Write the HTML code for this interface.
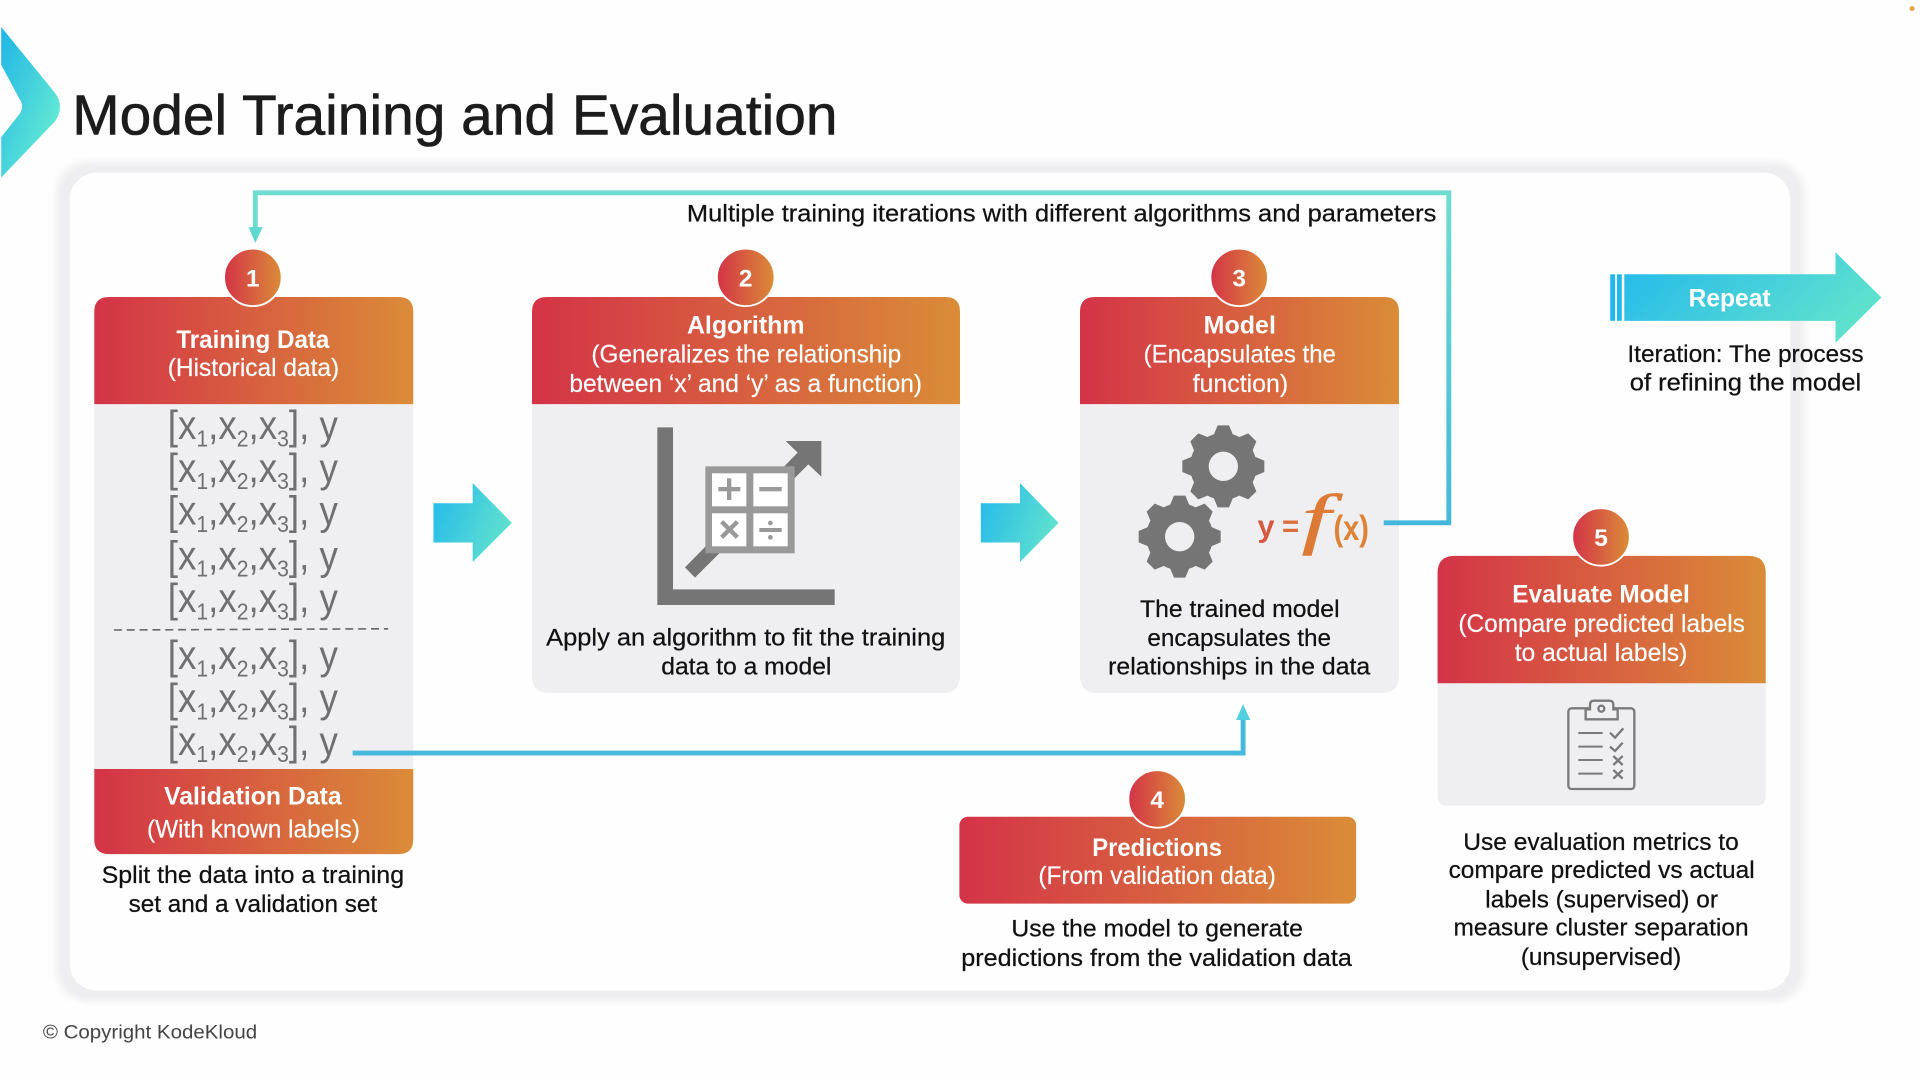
<!DOCTYPE html>
<html><head><meta charset="utf-8"><title>Model Training and Evaluation</title>
<style>
html,body{margin:0;padding:0;background:#fefefe;width:1920px;height:1080px;overflow:hidden}
svg{display:block}
text{font-family:"Liberation Sans",sans-serif}
.d{font-size:20px;fill:#111;stroke:#111;stroke-width:.2px}
.h{font-size:20.5px;fill:#fff;font-weight:bold}
.s{font-size:20.5px;fill:#fff;stroke:#fff;stroke-width:.15px}
.n{font-size:20px;fill:#fff;font-weight:bold;text-anchor:middle}
.r{font-size:33px;fill:#707073}
.r tspan.b{font-size:19px}
</style></head><body>
<svg width="1920" height="1080" viewBox="0 0 1568 882" xmlns="http://www.w3.org/2000/svg">
<defs>
<linearGradient id="hg" x1="0" y1="0" x2="1" y2="0"><stop offset="0" stop-color="#d43347"/><stop offset="1" stop-color="#da8c38"/></linearGradient>
<linearGradient id="ag" x1="0" y1="0" x2="1" y2="0.4"><stop offset="0" stop-color="#22b8ec"/><stop offset="1" stop-color="#5ee0cf"/></linearGradient>
<linearGradient id="cg" x1="0" y1="0" x2="1" y2="1"><stop offset="0" stop-color="#1fb5e6"/><stop offset="0.8" stop-color="#62e8d4"/></linearGradient>
<linearGradient id="rl" x1="0" y1="0" x2="0" y2="1"><stop offset="0" stop-color="#6fdcd0"/><stop offset="1" stop-color="#44b8dc"/></linearGradient>
<filter id="bl" x="-5%" y="-5%" width="110%" height="110%"><feGaussianBlur stdDeviation="3"/></filter>
<g id="tooth"><polygon points="-17,-123 17,-123 30,-92 -30,-92" fill="#757575"/></g>
<g id="gear"><circle r="100" fill="#757575"/>
<use href="#tooth"/><use href="#tooth" transform="rotate(45)"/><use href="#tooth" transform="rotate(90)"/><use href="#tooth" transform="rotate(135)"/><use href="#tooth" transform="rotate(180)"/><use href="#tooth" transform="rotate(225)"/><use href="#tooth" transform="rotate(270)"/><use href="#tooth" transform="rotate(315)"/>
<circle r="44" fill="#efeff1"/></g>
</defs>

<rect width="1568" height="882" fill="#fefefe"/>
<circle cx="1561.5" cy="7" r="2" fill="#e8a23c"/>

<!-- chevron -->
<path d="M1,22 L45,76 Q53,87 45,99 L1,145 L1,112 L16,93 Q20,87 16,81 L1,53 Z" fill="url(#cg)"/>
<text x="59" y="110" font-size="46" fill="#1c1c1c" stroke="#1c1c1c" stroke-width=".5" textLength="625" lengthAdjust="spacingAndGlyphs">Model Training and Evaluation</text>

<!-- panel -->
<rect x="46" y="132" width="1428" height="686" rx="26" fill="#eeeef0" filter="url(#bl)"/>
<rect x="57" y="141" width="1405" height="668" rx="22" fill="#fefefe"/>

<!-- box 1 -->
<rect x="77" y="330" width="260.5" height="298" fill="#efeff1"/>
<path d="M77,330 V254.500 Q77,242.500 89,242.500 H325.500 Q337.500,242.500 337.500,254.500 V330 Z" fill="url(#hg)"/>
<path d="M77,628 H337.500 V685.500 Q337.500,697.500 325.500,697.500 H89 Q77,697.500 77,685.500 Z" fill="url(#hg)"/>
<!-- box 2 -->
<path d="M434.500,330 H784 V552 Q784,566 770,566 H448.500 Q434.500,566 434.500,552 Z" fill="#efeff1"/>
<path d="M434.500,330 V254.500 Q434.500,242.500 446.500,242.500 H772 Q784,242.500 784,254.500 V330 Z" fill="url(#hg)"/>
<!-- box 3 -->
<path d="M882,330 H1142.500 V552 Q1142.500,566 1128.500,566 H896 Q882,566 882,552 Z" fill="#efeff1"/>
<path d="M882,330 V254.500 Q882,242.500 894,242.500 H1130.500 Q1142.500,242.500 1142.500,254.500 V330 Z" fill="url(#hg)"/>
<!-- box 4 -->
<rect x="783.500" y="667" width="324" height="71" rx="7" fill="url(#hg)"/>
<!-- box 5 -->
<path d="M1174,558 H1442 V650 Q1442,658 1434,658 H1182 Q1174,658 1174,650 Z" fill="#efeff1"/>
<path d="M1174,558 V468 Q1174,454 1188,454 H1428 Q1442,454 1442,468 V558 Z" fill="url(#hg)"/>

<!-- connectors -->
<path d="M1130,427 H1183.200 V157.500 H208.500" fill="none" stroke="url(#rl)" stroke-width="4"/>
<path d="M206.500,155.500 H210.500 V187 H206.500 Z" fill="#6fdcd0"/>
<polygon points="203,185.500 214.500,185.500 208.500,198.500" fill="#5fd8d0"/>
<path d="M288,615 H1015.200 V586" fill="none" stroke="#46b9dc" stroke-width="4"/>
<polygon points="1015.200,575 1021,588 1009.500,588" fill="#52d0e0"/>

<!-- block arrows -->
<polygon points="354,411 386,411 386,394.500 418,427 386,459 386,443 354,443" fill="url(#ag)"/>
<polygon points="801,411 833,411 833,394.500 864.500,427 833,459 833,443 801,443" fill="url(#ag)"/>
<rect x="1315" y="224" width="4" height="38" fill="#22b8ec"/>
<rect x="1320.500" y="224" width="4" height="38" fill="#22b8ec"/>
<polygon points="1326.500,224 1499,224 1499,206 1536.500,243 1499,280 1499,262 1326.500,262" fill="url(#ag)"/>

<!-- circles -->
<g stroke="#fff" stroke-width="1.500" fill="url(#hg)">
<circle cx="206.500" cy="226.500" r="23.500"/><circle cx="609" cy="226.500" r="23.500"/><circle cx="1012" cy="226.500" r="23.500"/><circle cx="945" cy="652.500" r="23.500"/><circle cx="1307.500" cy="438.500" r="23.500"/>
</g>
<text class="n" x="206.500" y="234">1</text><text class="n" x="609" y="234">2</text><text class="n" x="1012" y="234">3</text><text class="n" x="945" y="660">4</text><text class="n" x="1307.500" y="446">5</text>

<text class="d" x="561" y="181" textLength="612" lengthAdjust="spacingAndGlyphs">Multiple training iterations with different algorithms and parameters</text>

<!-- box 1 text -->
<text class="h" x="144" y="284" textLength="125" lengthAdjust="spacingAndGlyphs">Training Data</text>
<text class="s" x="137" y="307" textLength="140" lengthAdjust="spacingAndGlyphs">(Historical data)</text>
<g class="r">
<text class="r" x="137" y="358.500" textLength="139" lengthAdjust="spacingAndGlyphs">[x<tspan class="b" dy="6">1</tspan><tspan dy="-6">,x</tspan><tspan class="b" dy="6">2</tspan><tspan dy="-6">,x</tspan><tspan class="b" dy="6">3</tspan><tspan dy="-6">], y</tspan></text>
<text class="r" x="137" y="393.500" textLength="139" lengthAdjust="spacingAndGlyphs">[x<tspan class="b" dy="6">1</tspan><tspan dy="-6">,x</tspan><tspan class="b" dy="6">2</tspan><tspan dy="-6">,x</tspan><tspan class="b" dy="6">3</tspan><tspan dy="-6">], y</tspan></text>
<text class="r" x="137" y="428.500" textLength="139" lengthAdjust="spacingAndGlyphs">[x<tspan class="b" dy="6">1</tspan><tspan dy="-6">,x</tspan><tspan class="b" dy="6">2</tspan><tspan dy="-6">,x</tspan><tspan class="b" dy="6">3</tspan><tspan dy="-6">], y</tspan></text>
<text class="r" x="137" y="465" textLength="139" lengthAdjust="spacingAndGlyphs">[x<tspan class="b" dy="6">1</tspan><tspan dy="-6">,x</tspan><tspan class="b" dy="6">2</tspan><tspan dy="-6">,x</tspan><tspan class="b" dy="6">3</tspan><tspan dy="-6">], y</tspan></text>
<text class="r" x="137" y="500" textLength="139" lengthAdjust="spacingAndGlyphs">[x<tspan class="b" dy="6">1</tspan><tspan dy="-6">,x</tspan><tspan class="b" dy="6">2</tspan><tspan dy="-6">,x</tspan><tspan class="b" dy="6">3</tspan><tspan dy="-6">], y</tspan></text>
<text class="r" x="137" y="546.500" textLength="139" lengthAdjust="spacingAndGlyphs">[x<tspan class="b" dy="6">1</tspan><tspan dy="-6">,x</tspan><tspan class="b" dy="6">2</tspan><tspan dy="-6">,x</tspan><tspan class="b" dy="6">3</tspan><tspan dy="-6">], y</tspan></text>
<text class="r" x="137" y="581.500" textLength="139" lengthAdjust="spacingAndGlyphs">[x<tspan class="b" dy="6">1</tspan><tspan dy="-6">,x</tspan><tspan class="b" dy="6">2</tspan><tspan dy="-6">,x</tspan><tspan class="b" dy="6">3</tspan><tspan dy="-6">], y</tspan></text>
<text class="r" x="137" y="616.500" textLength="139" lengthAdjust="spacingAndGlyphs">[x<tspan class="b" dy="6">1</tspan><tspan dy="-6">,x</tspan><tspan class="b" dy="6">2</tspan><tspan dy="-6">,x</tspan><tspan class="b" dy="6">3</tspan><tspan dy="-6">], y</tspan></text>
</g>
<line x1="93" y1="514.500" x2="317" y2="513.500" stroke="#666" stroke-width="1.300" stroke-dasharray="6.500 4"/>
<text class="h" x="134" y="657" textLength="145" lengthAdjust="spacingAndGlyphs">Validation Data</text>
<text class="s" x="120" y="684" textLength="174" lengthAdjust="spacingAndGlyphs">(With known labels)</text>
<text class="d" x="83" y="721" textLength="247" lengthAdjust="spacingAndGlyphs">Split the data into a training</text>
<text class="d" x="105" y="745" textLength="203" lengthAdjust="spacingAndGlyphs">set and a validation set</text>

<!-- box 2 text -->
<text class="h" x="561" y="272.500" textLength="96" lengthAdjust="spacingAndGlyphs">Algorithm</text>
<text class="s" x="483" y="296" textLength="253" lengthAdjust="spacingAndGlyphs">(Generalizes the relationship</text>
<text class="s" x="465" y="320" textLength="288" lengthAdjust="spacingAndGlyphs">between ‘x’ and ‘y’ as a function)</text>
<text class="d" x="446" y="527" textLength="326" lengthAdjust="spacingAndGlyphs">Apply an algorithm to fit the training</text>
<text class="d" x="540" y="551" textLength="139" lengthAdjust="spacingAndGlyphs">data to a model</text>

<!-- box 3 text -->
<text class="h" x="983" y="272.500" textLength="59" lengthAdjust="spacingAndGlyphs">Model</text>
<text class="s" x="934" y="296" textLength="157" lengthAdjust="spacingAndGlyphs">(Encapsulates the</text>
<text class="s" x="974" y="320" textLength="78" lengthAdjust="spacingAndGlyphs">function)</text>
<text class="d" x="931" y="504" textLength="163" lengthAdjust="spacingAndGlyphs">The trained model</text>
<text class="d" x="937" y="527.500" textLength="150" lengthAdjust="spacingAndGlyphs">encapsulates the</text>
<text class="d" x="905" y="551" textLength="214" lengthAdjust="spacingAndGlyphs">relationships in the data</text>

<!-- box 4 text -->
<text class="h" x="892" y="699" textLength="106" lengthAdjust="spacingAndGlyphs">Predictions</text>
<text class="s" x="848" y="722" textLength="194" lengthAdjust="spacingAndGlyphs">(From validation data)</text>
<text class="d" x="826" y="765" textLength="238" lengthAdjust="spacingAndGlyphs">Use the model to generate</text>
<text class="d" x="785" y="789" textLength="319" lengthAdjust="spacingAndGlyphs">predictions from the validation data</text>

<!-- box 5 text -->
<text class="h" x="1235" y="492" textLength="145" lengthAdjust="spacingAndGlyphs">Evaluate Model</text>
<text class="s" x="1191" y="516" textLength="234" lengthAdjust="spacingAndGlyphs">(Compare predicted labels</text>
<text class="s" x="1237" y="540" textLength="141" lengthAdjust="spacingAndGlyphs">to actual labels)</text>
<text class="d" x="1195" y="694" textLength="225" lengthAdjust="spacingAndGlyphs">Use evaluation metrics to</text>
<text class="d" x="1183" y="717" textLength="250" lengthAdjust="spacingAndGlyphs">compare predicted vs actual</text>
<text class="d" x="1213" y="741" textLength="190" lengthAdjust="spacingAndGlyphs">labels (supervised) or</text>
<text class="d" x="1187" y="764" textLength="241" lengthAdjust="spacingAndGlyphs">measure cluster separation</text>
<text class="d" x="1242" y="788" textLength="131" lengthAdjust="spacingAndGlyphs">(unsupervised)</text>

<!-- repeat -->
<text class="h" x="1379" y="250.500" textLength="67" lengthAdjust="spacingAndGlyphs">Repeat</text>
<text class="d" x="1329" y="295.500" textLength="193" lengthAdjust="spacingAndGlyphs">Iteration: The process</text>
<text class="d" x="1331" y="319" textLength="189" lengthAdjust="spacingAndGlyphs">of refining the model</text>

<text x="35" y="848" font-size="16" fill="#444" textLength="175" lengthAdjust="spacingAndGlyphs">© Copyright KodeKloud</text>

<!-- algorithm icon -->
<g transform="translate(522.67,334.83) scale(0.27222)">
<path d="M52,52 H99 V538 H584 V585 H52 Z" fill="#757575"/>
<polygon points="135,472 473,128 437,93 544,93 544,200 505,163 165,503" fill="#757575"/>
<rect x="196" y="169" width="268" height="261" fill="#999"/>
<g fill="#fff"><rect x="216" y="190" width="103" height="99"/><rect x="340" y="190" width="103" height="99"/><rect x="216" y="310" width="103" height="99"/><rect x="340" y="310" width="103" height="99"/></g>
<g fill="#999"><rect x="235" y="231" width="66" height="13"/><rect x="261" y="205" width="13" height="65"/><rect x="358" y="231" width="67" height="13"/><rect x="358" y="354" width="67" height="12"/><circle cx="391" cy="339" r="7"/><circle cx="391" cy="382" r="7"/></g>
<path d="M245,335 L292,382 M292,335 L245,382" stroke="#999" stroke-width="13" fill="none"/>
</g>

<!-- gears -->
<g transform="translate(914.67,334.83) scale(0.27222)">
<use href="#gear" transform="translate(310,169)"/>
<use href="#gear" transform="translate(179,380)"/>
</g>
<text x="1027" y="438" font-size="25" font-weight="bold" fill="#d5583f">y</text>
<text x="1047" y="438" font-size="25" font-weight="bold" fill="#da6f3c" textLength="14" lengthAdjust="spacingAndGlyphs">=</text>
<text transform="translate(1063,442) scale(1.7,1.1)" font-size="50" font-style="italic" fill="#dd7a35" stroke="#dd7a35" stroke-width=".4" style="font-family:'Liberation Serif',serif">f</text>
<text x="1089" y="441" font-size="29" font-weight="bold" fill="#de8236" textLength="29" lengthAdjust="spacingAndGlyphs">(x)</text>

<!-- clipboard -->
<g transform="translate(1257.67,563.5) scale(0.27222)" fill="none" stroke="#7a7a7a" stroke-width="7">
<rect x="85" y="55" width="198" height="242" rx="10"/>
<path d="M137,88 V58 H150 V44 Q150,32 162,32 H208 Q220,32 220,44 V58 H233 V88 Z" fill="#efeff1"/>
<circle cx="184" cy="56" r="9"/>
<path d="M115,129 H188 M115,170 H188 M115,210 H188 M115,251 H188" stroke-width="6"/>
<path d="M210,128 L225,143 L250,115 M210,170 L225,183 L248,158 M220,198 L248,225 M248,198 L220,225 M220,240 L248,266 M248,240 L220,266"/>
</g>
</svg>
</body></html>
